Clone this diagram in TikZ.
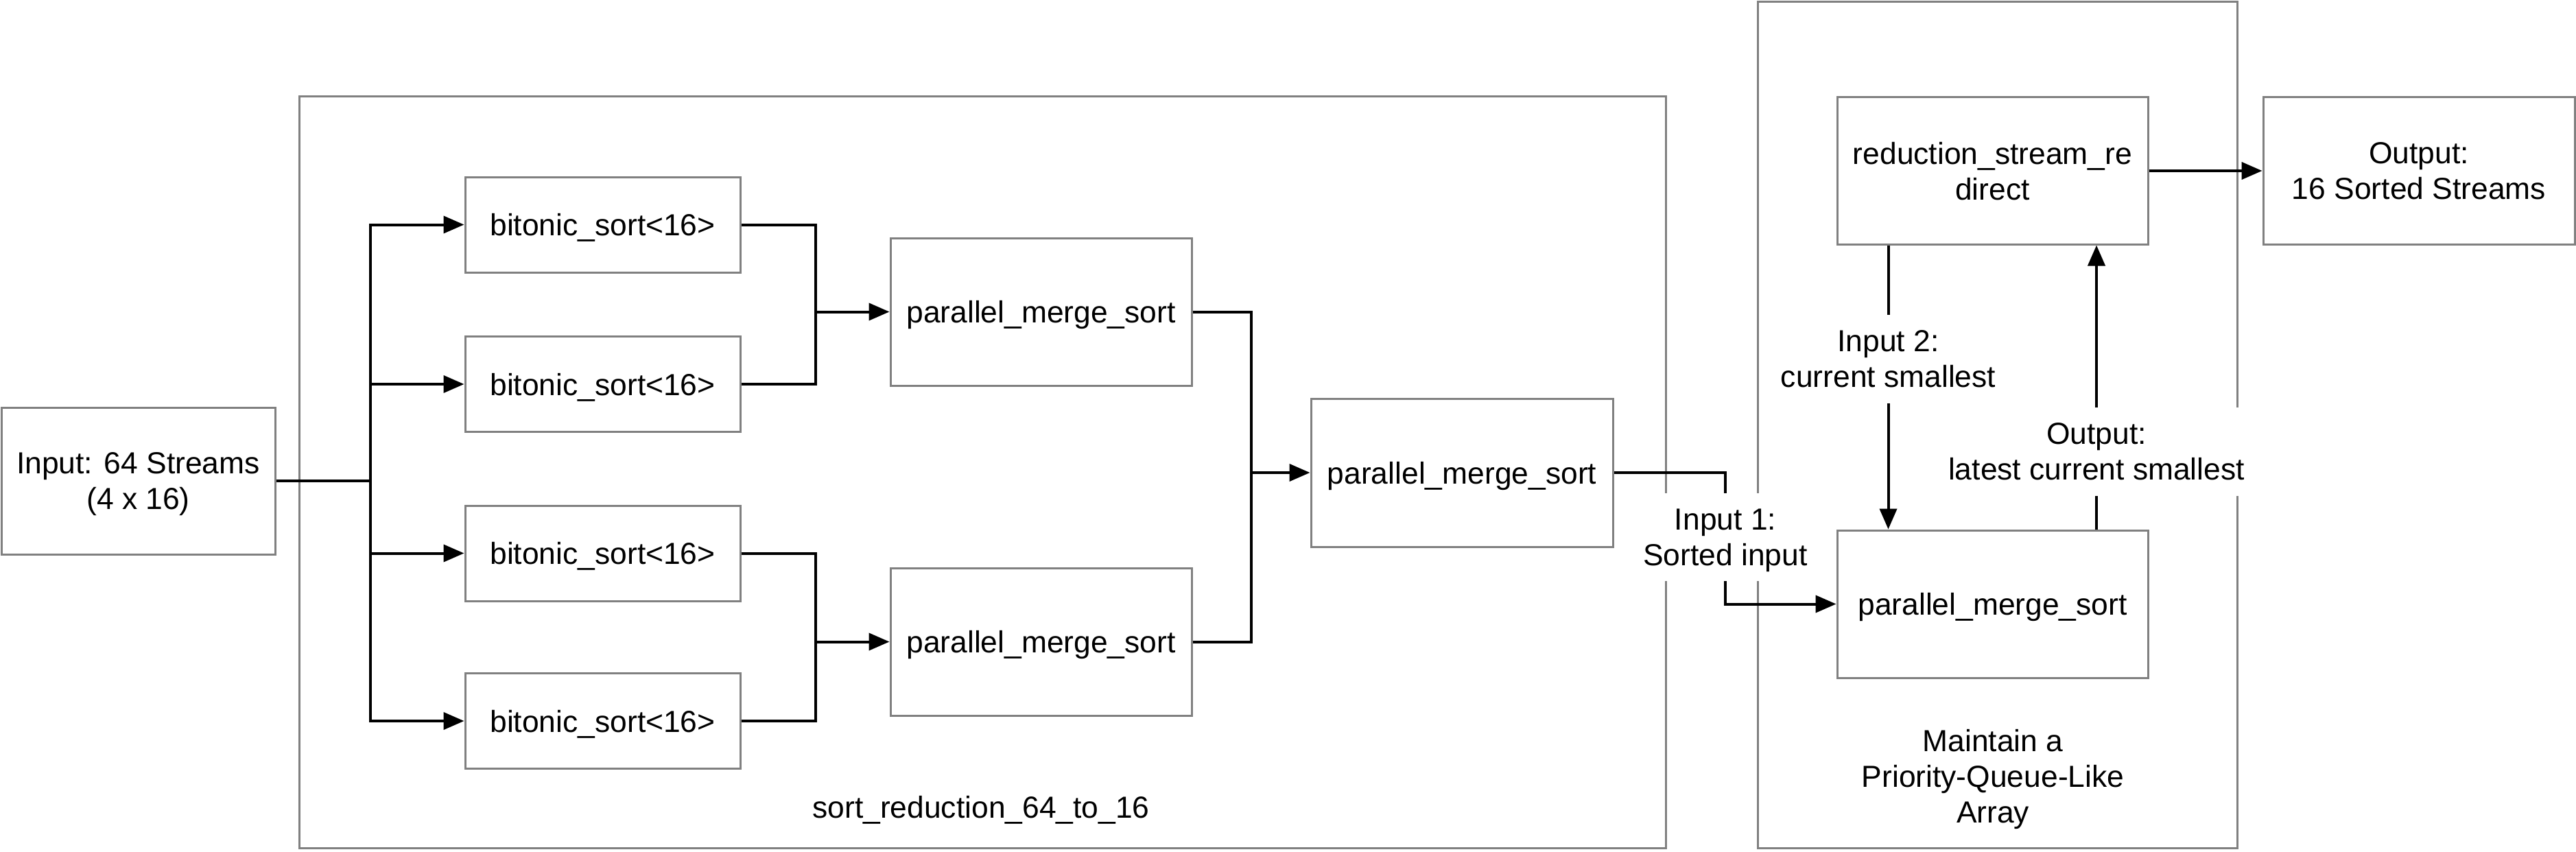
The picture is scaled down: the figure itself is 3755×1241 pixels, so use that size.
\documentclass[tikz,border=0pt]{standalone}
\usepackage{fontspec}
\setmainfont{Liberation Sans}
\usetikzlibrary{arrows.meta}
\definecolor{boxgray}{RGB}{128,128,128}
\begin{document}
\begin{tikzpicture}[x=0.25pt,y=-0.25pt,
  font=\fontsize{11.1}{13}\selectfont,
  txt/.style={align=center, text depth=0pt},
  box/.style={txt, draw=boxgray, line width=0.75pt, rectangle, inner sep=0pt},
  conn/.style={draw=black, line width=1pt},
  arr/.style={conn, -{Triangle[length=7.5pt,width=6.25pt]}},
  lab/.style={txt, fill=white, inner xsep=3pt, inner ysep=5.75pt}]
\useasboundingbox (0,0) rectangle (3755,1241);

% containers
\node[box, minimum width=498pt, minimum height=273.75pt] (outer1) at (1432,688.5) {};
\node[box, minimum width=174.75pt, minimum height=308.25pt] (outer2) at (2911.5,619.5) {};
\node[txt] (t1) at (1430,1176) {sort\_reduction\_64\_to\_16};
\node[txt] (t2) at (2905,1131) {Maintain a\\Priority-Queue-Like\\Array};

% boxes
\node[box, minimum width=99.75pt, minimum height=53.5pt] (in) at (201.5,701) {Input: 64 Streams\\(4 x 16)};
\node[box, minimum width=100.25pt, minimum height=34.75pt] (b1) at (878.5,327.5) {bitonic\_sort<16>};
\node[box, minimum width=100.25pt, minimum height=34.75pt] (b2) at (878.5,560) {bitonic\_sort<16>};
\node[box, minimum width=100.25pt, minimum height=34.75pt] (b3) at (878.5,806.5) {bitonic\_sort<16>};
\node[box, minimum width=100.25pt, minimum height=34.75pt] (b4) at (878.5,1051) {bitonic\_sort<16>};
\node[box, minimum width=109.75pt, minimum height=53.75pt] (p1) at (1517.5,454.5) {parallel\_merge\_sort};
\node[box, minimum width=109.75pt, minimum height=53.75pt] (p2) at (1517.5,935.5) {parallel\_merge\_sort};
\node[box, minimum width=110pt, minimum height=54pt] (p3) at (2131,689) {parallel\_merge\_sort};
\node[box, minimum width=113.25pt, minimum height=53.5pt] (rsr) at (2904.5,249) {reduction\_stream\_re\\direct};
\node[box, minimum width=113.5pt, minimum height=53.5pt] (out) at (3526,249) {Output:\\16 Sorted Streams};
\node[box, minimum width=113.25pt, minimum height=53.75pt] (p4) at (2904.5,880.5) {parallel\_merge\_sort};

% helper coordinates
\coordinate (br) at (540,701);
\coordinate (m1) at (1189,454.5);
\coordinate (m2) at (1189,935.5);
\coordinate (m3) at (1824,689);
\coordinate (i1) at (2515,783);
\coordinate (i2x) at (2752.5,0);
\coordinate (o2x) at (3056,0);

% connectors
\draw[conn] (in.east) -- (br);
\draw[arr] (br) |- (b1.west);
\draw[arr] (br) |- (b2.west);
\draw[arr] (br) |- (b3.west);
\draw[arr] (br) |- (b4.west);
\draw[conn] (b1.east) -| (m1);
\draw[conn] (b2.east) -| (m1);
\draw[arr] (m1) -- (p1.west);
\draw[conn] (b3.east) -| (m2);
\draw[conn] (b4.east) -| (m2);
\draw[arr] (m2) -- (p2.west);
\draw[conn] (p1.east) -| (m3);
\draw[conn] (p2.east) -| (m3);
\draw[arr] (m3) -- (p3.west);
\draw[arr] (p3.east) -| (i1) |- (p4.west);
\node[lab] (l1) at (i1) {Input 1:\\Sorted input};
\draw[arr] (rsr.south -| i2x) -- (p4.north -| i2x);
\node[lab] (l2) at (2752.5,523) {Input 2:\\current smallest};
\draw[arr] (p4.north -| o2x) -- (rsr.south -| o2x);
\node[lab] (l3) at (3056,658) {Output:\\latest current smallest};
\draw[arr] (rsr.east) -- (out.west);
\end{tikzpicture}
\end{document}
